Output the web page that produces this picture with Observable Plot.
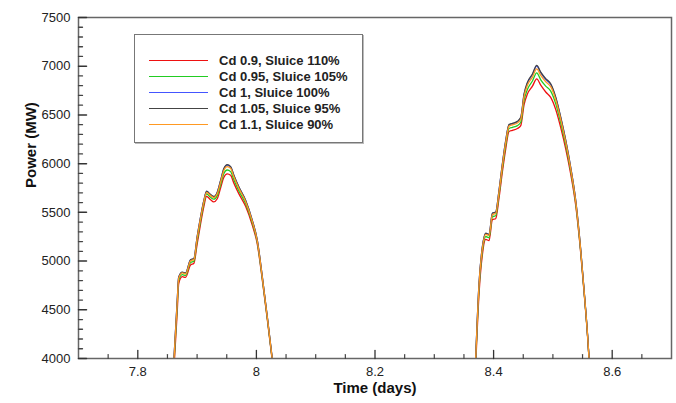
<!DOCTYPE html>
<html>
<head>
<meta charset="utf-8">
<script src="https://cdn.jsdelivr.net/npm/d3@7"></script>
<script src="https://cdn.jsdelivr.net/npm/@observablehq/plot@0.6"></script>
<style>
  body { margin: 0; background: #fff; }
  #wrap { position: relative; width: 676px; height: 403px; font-family: "Liberation Sans", Arial, sans-serif; }
  #legend { position: absolute; left: 134px; top: 34px; width: 229px; height: 109px; border: 1px solid #777;
            box-shadow: 1px 1px 0 #bbb; background: #fff; box-sizing: border-box; }
  .row { position: absolute; left: 14px; height: 16px; display: flex; align-items: center;
         font-weight: bold; font-size: 13px; color: #222; white-space: nowrap; }
  .sw { width: 59px; height: 0; border-top: 1.5px solid; margin-right: 11px; }
</style>
</head>
<body>
<div id="wrap"><div id="chart"></div><div id="legend"></div></div>
<script>
// ---- data ----
const seriesNames = ["Cd 0.9, Sluice 110%", "Cd 0.95, Sluice 105%", "Cd 1, Sluice 100%", "Cd 1.05, Sluice 95%", "Cd 1.1, Sluice 90%"];
const seriesColors = ["#ee1111", "#22cc22", "#4455ff", "#444444", "#ff9922"];

const xDomain = [7.7, 8.7];
const yDomain = [4000, 7500];
const xMajorTicks = [7.8, 8, 8.2, 8.4, 8.6];
const xMinorTicks = [7.75, 7.85, 7.9, 7.95, 8.05, 8.1, 8.15, 8.25, 8.3, 8.35, 8.45, 8.5, 8.55, 8.65];
const yMajorTicks = [4000, 4500, 5000, 5500, 6000, 6500, 7000, 7500];
const yMinorTicks = [4100, 4200, 4300, 4400, 4600, 4700, 4800, 4900, 5100, 5200, 5300, 5400, 5600, 5700, 5800, 5900,
                     6100, 6200, 6300, 6400, 6600, 6700, 6800, 6900, 7100, 7200, 7300, 7400];

// first peak (days)
const time1 = [7.861, 7.8665, 7.869, 7.875, 7.8805, 7.889, 7.8945, 7.900, 7.9058, 7.9114, 7.916, 7.9227, 7.928,
               7.934, 7.9396, 7.945, 7.9508, 7.9565, 7.962, 7.9705, 7.9818, 7.993, 8.0015, 8.010, 8.0184, 8.0268];
// second peak (days)
const time2 = [8.3698, 8.3754, 8.381, 8.3867, 8.3923, 8.398, 8.4035, 8.4091, 8.4148, 8.4204, 8.426, 8.4317, 8.4401,
               8.4458, 8.4514, 8.457, 8.4655, 8.4727, 8.4795, 8.4879, 8.4963, 8.5048, 8.5132, 8.5217, 8.530, 8.5385,
               8.547, 8.5526, 8.5583, 8.561];

// power (MW)
const red1    = [3900, 4480, 4770, 4840, 4832, 4960, 4975, 5170, 5380, 5560, 5665, 5630, 5608, 5640, 5750, 5858, 5895, 5880, 5800, 5690, 5562, 5370, 5175, 4805, 4400, 3975];
const green1  = [3950, 4540, 4800, 4860, 4852, 4985, 4998, 5205, 5412, 5590, 5690, 5655, 5635, 5672, 5783, 5896, 5935, 5918, 5835, 5720, 5590, 5392, 5192, 4818, 4412, 3982];
const blue1   = [4000, 4595, 4834, 4885, 4875, 5012, 5023, 5244, 5449, 5620, 5714, 5680, 5660, 5704, 5823, 5942, 5985, 5966, 5878, 5757, 5622, 5418, 5213, 4836, 4426, 3994];
const black1  = [4000, 4597, 4836, 4887, 4877, 5014, 5025, 5246, 5451, 5622, 5717, 5683, 5663, 5707, 5827, 5947, 5990, 5970, 5882, 5760, 5625, 5420, 5215, 4838, 4428, 3995];
const orange1 = [3990, 4580, 4825, 4878, 4868, 5003, 5015, 5232, 5438, 5610, 5705, 5672, 5652, 5694, 5810, 5928, 5970, 5952, 5865, 5746, 5612, 5410, 5206, 4830, 4422, 3990];

const red2    = [3920, 4660, 5060, 5222, 5210, 5425, 5435, 5645, 5915, 6150, 6330, 6342, 6360, 6390, 6605, 6715, 6795, 6870, 6805, 6735, 6680, 6555, 6370, 6150, 5895, 5570, 5075, 4676, 4240, 3990];
const green2  = [3960, 4710, 5100, 5252, 5240, 5455, 5465, 5680, 5950, 6188, 6360, 6372, 6390, 6425, 6650, 6762, 6848, 6932, 6860, 6795, 6745, 6615, 6420, 6190, 5925, 5592, 5090, 4686, 4246, 3994];
const blue2   = [4000, 4765, 5140, 5284, 5271, 5489, 5499, 5720, 5994, 6232, 6396, 6409, 6429, 6470, 6708, 6826, 6912, 7000, 6932, 6864, 6812, 6675, 6471, 6233, 5959, 5619, 5108, 4698, 4255, 4000];
const black2  = [4000, 4768, 5143, 5287, 5274, 5492, 5502, 5724, 5998, 6237, 6401, 6414, 6434, 6475, 6715, 6834, 6920, 7008, 6940, 6872, 6820, 6682, 6477, 6238, 5963, 5622, 5110, 4700, 4256, 4000];
const orange2 = [3990, 4750, 5130, 5275, 5262, 5478, 5488, 5708, 5980, 6218, 6385, 6398, 6418, 6456, 6690, 6805, 6888, 6972, 6905, 6840, 6790, 6656, 6455, 6220, 5948, 5610, 5102, 4694, 4252, 3998];

const seriesPeaks = [[red1, red2], [green1, green2], [blue1, blue2], [black1, black2], [orange1, orange2]];

// ---- table ----
const rows = [];
seriesNames.forEach((name, s) => {
  [time1, time2].forEach((times, p) => {
    times.forEach((t, i) => rows.push({series: name, key: name + "|" + p, t, P: seriesPeaks[s][p][i]}));
  });
});

const fmt = d => String(+d.toFixed(2));
const font = "'Liberation Sans', Arial, sans-serif";
// straight tick segments for the vector mark
const tickUp = {draw(context, l) { context.moveTo(0, 0); context.lineTo(0, -l); }};
const tickRight = {draw(context, l) { context.moveTo(0, 0); context.lineTo(l, 0); }};

const chart = Plot.plot({
  width: 676, height: 403,
  marginLeft: 78, marginRight: 5, marginTop: 17, marginBottom: 45,
  x: {domain: xDomain, label: null},
  y: {domain: yDomain, label: null},
  color: {domain: seriesNames, range: seriesColors},
  style: {fontFamily: font, fontSize: "13px", color: "#222", background: "#fff", overflow: "visible"},
  marks: [
    Plot.line(rows, {x: "t", y: "P", z: "key", stroke: "series", strokeWidth: 1.3, curve: "monotone-x", clip: true}),
    Plot.frame({stroke: "#666", strokeWidth: 1.5}),
    // inward ticks, x axis
    Plot.vector(xMajorTicks, {x: d => d, y: () => yDomain[0], length: 8, anchor: "start", shape: tickUp, stroke: "#333", strokeWidth: 1.3}),
    Plot.vector(xMinorTicks, {x: d => d, y: () => yDomain[0], length: 4, anchor: "start", shape: tickUp, stroke: "#444", strokeWidth: 1.2}),
    // inward ticks, y axis
    Plot.vector(yMajorTicks, {x: () => xDomain[0], y: d => d, length: 8, anchor: "start", shape: tickRight, stroke: "#333", strokeWidth: 1.5}),
    Plot.vector(yMinorTicks, {x: () => xDomain[0], y: d => d, length: 4, anchor: "start", shape: tickRight, stroke: "#444", strokeWidth: 1.3}),
    Plot.axisX(xMajorTicks, {tickSize: 0, tickPadding: 8, tickFormat: fmt, fill: "#222", label: null}),
    Plot.axisY(yMajorTicks, {tickSize: 0, tickPadding: 8, tickFormat: d => String(d), fill: "#222", label: null}),
    Plot.text(["Time (days)"], {text: d => d, frameAnchor: "bottom", dy: 34, fontSize: 15, fontWeight: "bold", fill: "#111"}),
    Plot.text(["Power (MW)"], {text: d => d, frameAnchor: "left", dx: -47, rotate: -90, fontSize: 15, fontWeight: "bold", fill: "#111"})
  ]
});
document.getElementById("chart").appendChild(chart);

// ---- legend ----
const legend = document.getElementById("legend");
seriesNames.forEach((name, i) => {
  const row = document.createElement("div");
  row.className = "row";
  row.style.top = (17 + i * 16.2) + "px";
  const sw = document.createElement("span");
  sw.className = "sw";
  sw.style.borderTopColor = seriesColors[i];
  const lab = document.createElement("span");
  lab.textContent = name;
  row.appendChild(sw);
  row.appendChild(lab);
  legend.appendChild(row);
});
</script>
</body>
</html>
